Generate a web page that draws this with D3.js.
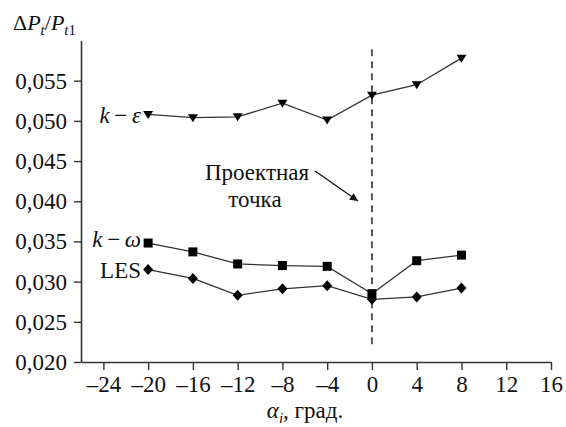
<!DOCTYPE html>
<html>
<head>
<meta charset="utf-8">
<script src="https://cdn.jsdelivr.net/npm/d3@7"></script>
<style>
  body { margin: 0; background: #fff; }
</style>
</head>
<body>
<div id="container"></div>
<script>
// data
const angles = [-20, -16, -12, -8, -4, 0, 4, 8];
const kEps   = [0.0508, 0.0504, 0.0505, 0.0522, 0.0501, 0.0532, 0.0545, 0.0578];
const kOmega = [0.0348, 0.0337, 0.0322, 0.0320, 0.0319, 0.0285, 0.0326, 0.0333];
const les    = [0.0315, 0.0304, 0.0283, 0.0291, 0.0295, 0.0278, 0.0281, 0.0292];
const xTicks = [-24, -20, -16, -12, -8, -4, 0, 4, 8, 12, 16];
const yTicks = [0.020, 0.025, 0.030, 0.035, 0.040, 0.045, 0.050, 0.055];
const designPoint = 0;
const designLineRange = [0.0221, 0.0589];

const width = 566, height = 427;
const plotLeft = 81, plotRight = 551, plotTop = 40.5, plotBottom = 362;
const ink = '#333';
const serif = 'Liberation Serif';
const fs = 23;

let svg = d3.select('#container')
  .append('svg')
  .attr('width', width)
  .attr('height', height);

let x = d3.scaleLinear().domain([-26, 16]).range([plotLeft, plotRight]);
let y = d3.scaleLinear().domain([0.020, 0.060]).range([plotBottom, plotTop]);

// axes
let xAxis = svg.append('g')
  .attr('transform', 'translate(0,' + plotBottom + ')')
  .call(d3.axisBottom(x).tickValues(xTicks).tickSize(8).tickPadding(5).tickSizeOuter(0)
    .tickFormat(d => d < 0 ? '\u2013' + Math.abs(d) : d));

let yAxis = svg.append('g')
  .attr('transform', 'translate(' + plotLeft + ',0)')
  .call(d3.axisLeft(y).tickValues(yTicks).tickSize(7).tickPadding(7).tickSizeOuter(0)
    .tickFormat(d => d3.format('.3f')(d).replace('.', ',')));

[xAxis, yAxis].forEach(a => {
  a.attr('font-family', serif).attr('font-size', fs);
  a.select('.domain').attr('stroke', ink).attr('stroke-width', 1.6);
  a.selectAll('.tick line').attr('stroke', ink).attr('stroke-width', 1.4);
  a.selectAll('.tick text').attr('fill', '#111').attr('font-family', serif);
});
xAxis.selectAll('.tick text').attr('dy', '0.75em');

// design point dashed line
svg.append('line')
  .attr('x1', x(designPoint)).attr('x2', x(designPoint))
  .attr('y1', y(designLineRange[1])).attr('y2', y(designLineRange[0]))
  .attr('stroke', ink).attr('stroke-width', 1.6)
  .attr('stroke-dasharray', '7,5');

// series
let line = d3.line().x(d => x(d[0])).y(d => y(d[1]));

let series = [
  { vals: kEps, sym: 'tri' },
  { vals: kOmega, sym: 'sq' },
  { vals: les, sym: 'dia' }
];

series.forEach(s => {
  let pts = angles.map((a, i) => [a, s.vals[i]]);
  svg.append('path')
    .datum(pts)
    .attr('d', line)
    .attr('fill', 'none')
    .attr('stroke', ink)
    .attr('stroke-width', 1.3);

  let g = svg.append('g').selectAll('path').data(pts).enter().append('path')
    .attr('fill', '#000')
    .attr('transform', d => 'translate(' + x(d[0]) + ',' + y(d[1]) + ')');
  if (s.sym == 'tri') g.attr('d', 'M-5,-3.5L5,-3.5L0,4.5Z');
  if (s.sym == 'sq') g.attr('d', 'M-4.5,-4.5H4.5V4.5H-4.5Z');
  if (s.sym == 'dia') g.attr('d', 'M0,-5.5L5,0L0,5.5L-5,0Z');
});

function addText(xx, yy, anchor) {
  return svg.append('text')
    .attr('x', xx).attr('y', yy)
    .attr('text-anchor', anchor)
    .attr('font-family', serif)
    .attr('font-size', fs)
    .attr('fill', '#111');
}

// series labels
function seriesLabel(yy, parts) {
  let t = addText(141, yy, 'end');
  parts.forEach(p => {
    t.append('tspan').text(p[0]).attr('font-style', p[1] ? 'italic' : 'normal');
  });
}
seriesLabel(123, [['k', true], ['\u2009\u2212\u2009', false], ['\u03b5', true]]);
seriesLabel(247, [['k', true], ['\u2009\u2212\u2009', false], ['\u03c9', true]]);
seriesLabel(278, [['LES', false]]);

// annotation
addText(257, 180, 'middle').text('Проектная');
addText(255, 207, 'middle').text('точка');

svg.append('defs').append('marker')
  .attr('id', 'arr')
  .attr('viewBox', '0 0 10 10')
  .attr('refX', 10).attr('refY', 5)
  .attr('markerWidth', 10).attr('markerHeight', 8)
  .attr('markerUnits', 'userSpaceOnUse')
  .attr('orient', 'auto')
  .append('path').attr('d', 'M0,0L10,5L0,10Z').attr('fill', '#111');

svg.append('line')
  .attr('x1', 315).attr('y1', 171)
  .attr('x2', 358).attr('y2', 201)
  .attr('stroke', '#111').attr('stroke-width', 1.3)
  .attr('marker-end', 'url(#arr)');

// axis titles
let yt = addText(13, 30, 'start').attr('font-size', 22);
yt.append('tspan').text('\u0394');
yt.append('tspan').text('P').attr('font-style', 'italic');
yt.append('tspan').text('t').attr('font-style', 'italic').attr('font-size', 15).attr('dy', 5);
yt.append('tspan').text('/').attr('dy', -5);
yt.append('tspan').text('P').attr('font-style', 'italic');
yt.append('tspan').text('t').attr('font-style', 'italic').attr('font-size', 15).attr('dy', 5);
yt.append('tspan').text('1').attr('font-size', 15);

let xt = addText(305, 418, 'middle');
xt.append('tspan').text('\u03b1').attr('font-style', 'italic');
xt.append('tspan').text('i').attr('font-style', 'italic').attr('font-size', 15).attr('dy', 5);
xt.append('tspan').text(', град.').attr('dy', -5);
</script>
</body>
</html>
